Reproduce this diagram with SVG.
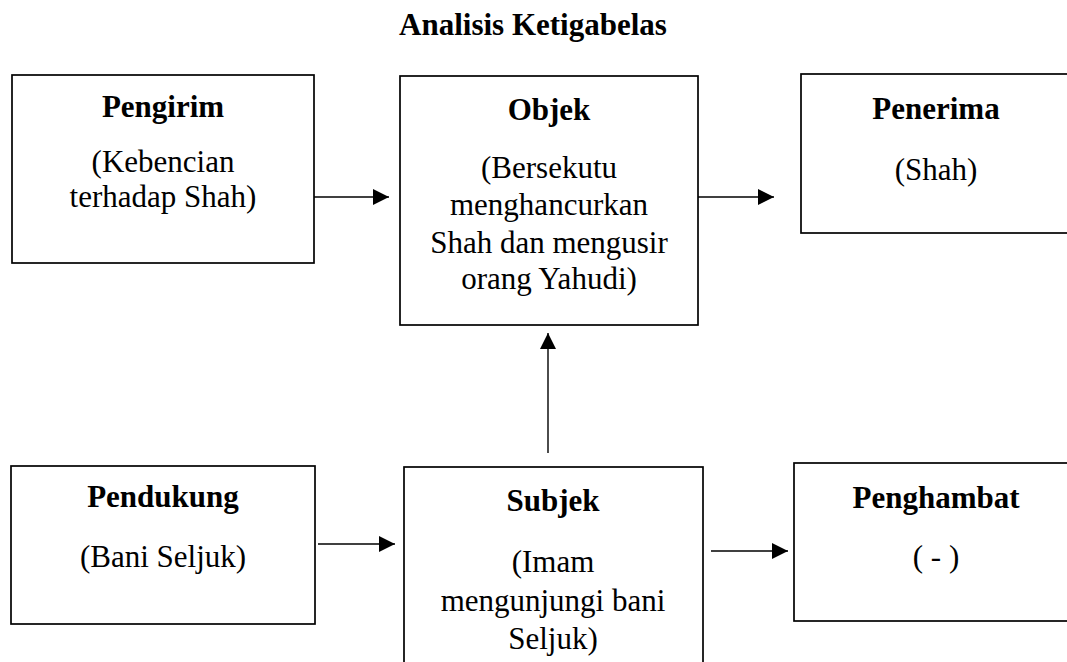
<svg xmlns="http://www.w3.org/2000/svg" width="1067" height="662" viewBox="0 0 1067 662">
  <style>
    .box { fill: #fff; stroke: #000; stroke-width: 1.7; }
    .t { font-family: "Liberation Serif", "Times New Roman", serif; font-size: 31px; fill: #000; text-anchor: middle; }
    .b { font-weight: bold; }
    .edge { stroke: #000; stroke-width: 1.4; fill: none; marker-end: url(#head); }
  </style>
  <defs>
    <marker id="head" viewBox="0 0 16 16" refX="16" refY="8" markerWidth="16" markerHeight="16" markerUnits="userSpaceOnUse" orient="auto">
      <path d="M0,0 L16,8 L0,16 Z" fill="#000"/>
    </marker>
  </defs>
  <rect width="1067" height="662" fill="#fff"/>

  <text class="t b" x="533" y="35">Analisis Ketigabelas</text>

  <g id="pengirim">
    <rect class="box" x="12" y="75" width="302" height="188"/>
    <text class="t b" x="163" y="117">Pengirim</text>
    <text class="t" x="163" y="172">(Kebencian</text>
    <text class="t" x="163" y="207">terhadap Shah)</text>
  </g>

  <g id="objek">
    <rect class="box" x="400" y="76" width="298" height="249"/>
    <text class="t b" x="549" y="120">Objek</text>
    <text class="t" x="549" y="178">(Bersekutu</text>
    <text class="t" x="549" y="215">menghancurkan</text>
    <text class="t" x="549" y="253">Shah dan mengusir</text>
    <text class="t" x="549" y="289">orang Yahudi)</text>
  </g>

  <g id="penerima">
    <rect class="box" x="801" y="74" width="280" height="159"/>
    <text class="t b" x="936" y="119">Penerima</text>
    <text class="t" x="936" y="180">(Shah)</text>
  </g>

  <g id="pendukung">
    <rect class="box" x="11" y="466" width="304" height="158"/>
    <text class="t b" x="163" y="507">Pendukung</text>
    <text class="t" x="163" y="567">(Bani Seljuk)</text>
  </g>

  <g id="subjek">
    <rect class="box" x="404" y="467" width="299" height="210"/>
    <text class="t b" x="553" y="511">Subjek</text>
    <text class="t" x="553" y="572">(Imam</text>
    <text class="t" x="553" y="611">mengunjungi bani</text>
    <text class="t" x="553" y="649">Seljuk)</text>
  </g>

  <g id="penghambat">
    <rect class="box" x="794" y="463" width="290" height="158"/>
    <text class="t b" x="936" y="508">Penghambat</text>
    <text class="t" x="936" y="567">( - )</text>
  </g>

  <g id="connectors">
    <line class="edge" x1="314" y1="197" x2="389" y2="197"/>
    <line class="edge" x1="698" y1="197" x2="774" y2="197"/>
    <line class="edge" x1="318" y1="544" x2="395" y2="544"/>
    <line class="edge" x1="711" y1="551" x2="788" y2="551"/>
    <line class="edge" x1="548" y1="453" x2="548" y2="333"/>
  </g>
</svg>
